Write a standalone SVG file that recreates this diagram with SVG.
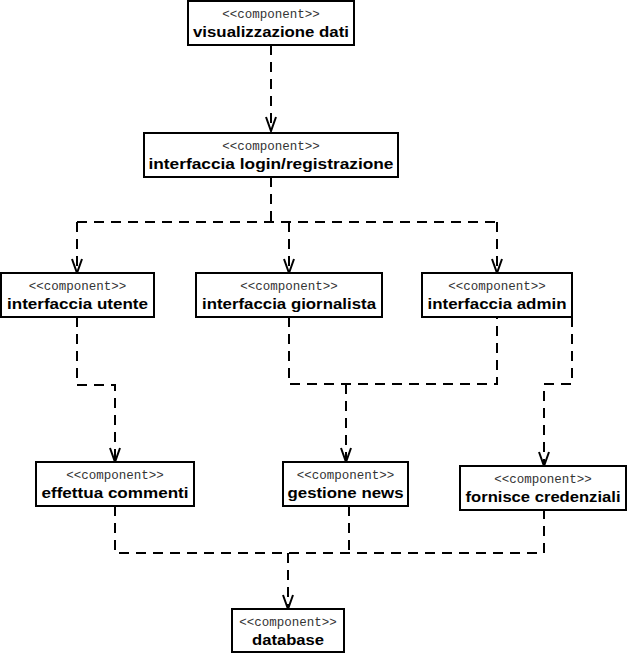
<svg xmlns="http://www.w3.org/2000/svg" width="629" height="655" viewBox="0 0 629 655">
<style>
.box{fill:#fff;stroke:#000;stroke-width:2}
.st{font-family:"Liberation Mono","DejaVu Sans Mono",monospace;font-size:12.5px;fill:#333;text-anchor:middle}
.nm{font-family:"Liberation Sans","DejaVu Sans",sans-serif;font-weight:bold;font-size:15.5px;fill:#000;text-anchor:middle}
.ln{fill:none;stroke:#000;stroke-width:2;stroke-dasharray:10 7}
.ah{fill:none;stroke:#000;stroke-width:2}
</style>
<rect width="629" height="655" fill="#fff"/>
<g id="connectors">
<path class="ln" d="M271,45 V129"/>
<path class="ah" d="M266,117 L271,131 L276,117"/>
<path class="ln" d="M271,177 V222 M77,222 H497 M77,222 V271 M289,222 V271 M497,222 V271"/>
<path class="ah" d="M72,259 L77,273 L82,259 M284,259 L289,273 L294,259 M492,259 L497,273 L502,259"/>
<path class="ln" d="M77,317 V385 H115 V460"/>
<path class="ah" d="M110,448 L115,462 L120,448"/>
<path class="ln" d="M289,317 V384 H497 V317 M346,384 V460"/>
<path class="ah" d="M341,448 L346,462 L351,448"/>
<path class="ln" d="M572,317 V384 H544 V464"/>
<path class="ah" d="M539,452 L544,466 L549,452"/>
<path class="ln" d="M115,506 V553 H544 V510 M349,506 V553 M288,553 V607"/>
<path class="ah" d="M283,595 L288,609 L293,595"/>
</g>
<g id="n1"><rect class="box" x="188" y="1" width="166" height="44"/><text class="st" x="271" y="18">&lt;&lt;component&gt;&gt;</text><text class="nm" x="271" y="37" textLength="156" lengthAdjust="spacingAndGlyphs">visualizzazione dati</text></g>
<g id="n2"><rect class="box" x="144" y="133" width="254" height="44"/><text class="st" x="271" y="150">&lt;&lt;component&gt;&gt;</text><text class="nm" x="271" y="169" textLength="245" lengthAdjust="spacingAndGlyphs">interfaccia login/registrazione</text></g>
<g id="n3"><rect class="box" x="1" y="273" width="153" height="44"/><text class="st" x="77.5" y="290">&lt;&lt;component&gt;&gt;</text><text class="nm" x="77.5" y="309" textLength="141" lengthAdjust="spacingAndGlyphs">interfaccia utente</text></g>
<g id="n4"><rect class="box" x="196" y="273" width="186" height="44"/><text class="st" x="289" y="290">&lt;&lt;component&gt;&gt;</text><text class="nm" x="289" y="309" textLength="174" lengthAdjust="spacingAndGlyphs">interfaccia giornalista</text></g>
<g id="n5"><rect class="box" x="422" y="273" width="150" height="44"/><text class="st" x="497" y="290">&lt;&lt;component&gt;&gt;</text><text class="nm" x="497" y="309" textLength="139" lengthAdjust="spacingAndGlyphs">interfaccia admin</text></g>
<g id="n6"><rect class="box" x="36" y="462" width="158" height="44"/><text class="st" x="115" y="479">&lt;&lt;component&gt;&gt;</text><text class="nm" x="115" y="498" textLength="147" lengthAdjust="spacingAndGlyphs">effettua commenti</text></g>
<g id="n7"><rect class="box" x="283" y="462" width="125" height="44"/><text class="st" x="345.5" y="479">&lt;&lt;component&gt;&gt;</text><text class="nm" x="345.5" y="498" textLength="116" lengthAdjust="spacingAndGlyphs">gestione news</text></g>
<g id="n8"><rect class="box" x="460" y="466" width="166" height="44"/><text class="st" x="543" y="483">&lt;&lt;component&gt;&gt;</text><text class="nm" x="543" y="502" textLength="155" lengthAdjust="spacingAndGlyphs">fornisce credenziali</text></g>
<g id="n9"><rect class="box" x="232" y="609" width="112" height="43"/><text class="st" x="288" y="626">&lt;&lt;component&gt;&gt;</text><text class="nm" x="288" y="645" textLength="72" lengthAdjust="spacingAndGlyphs">database</text></g>
</svg>
